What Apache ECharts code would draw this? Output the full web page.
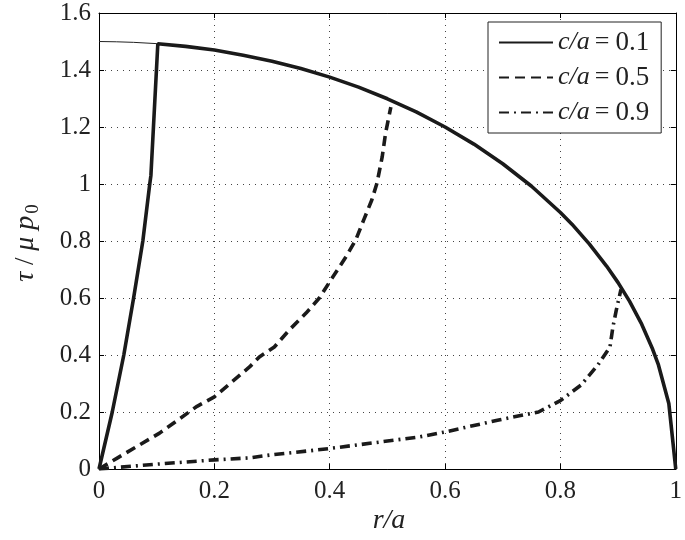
<!DOCTYPE html>
<html>
<head>
<meta charset="utf-8">
<script src="https://cdn.jsdelivr.net/npm/echarts@6/dist/echarts.min.js"></script>
<style>html,body{margin:0;padding:0;background:#fff}#c{width:685px;height:540px}</style>
</head>
<body>
<div id="c"></div>
<script>
// ---- data ----
const xTicks = [0, 0.2, 0.4, 0.6, 0.8, 1];
const yTicks = [0, 0.2, 0.4, 0.6, 0.8, 1, 1.2, 1.4, 1.6];

// thin reference curve (r/a < 0.1)
const thinX = [0, 0.03, 0.06, 0.1];
const thinY = [1.5, 1.499, 1.497, 1.4925];

// c/a = 0.1 (solid)
const ca01X = [0, 0.023, 0.043, 0.06, 0.076, 0.088, 0.09, 0.102, 0.15, 0.2, 0.25, 0.3, 0.35, 0.4, 0.45, 0.5, 0.55, 0.6, 0.65, 0.7, 0.75, 0.8, 0.82, 0.85, 0.88, 0.9, 0.92, 0.94, 0.96, 0.97, 0.988, 1.0];
const ca01Y = [0, 0.2, 0.4, 0.6, 0.8, 1.0, 1.03, 1.492, 1.483, 1.47, 1.452, 1.431, 1.405, 1.375, 1.34, 1.299, 1.253, 1.2, 1.14, 1.071, 0.992, 0.9, 0.859, 0.79, 0.712, 0.654, 0.588, 0.512, 0.42, 0.365, 0.23, 0];

// c/a = 0.5 (dashed)
const ca05X = [0, 0.033, 0.105, 0.17, 0.2, 0.261, 0.278, 0.304, 0.33, 0.359, 0.382, 0.402, 0.428, 0.445, 0.459, 0.473, 0.482, 0.491, 0.497, 0.506];
const ca05Y = [0, 0.04, 0.126, 0.22, 0.253, 0.358, 0.393, 0.428, 0.488, 0.547, 0.6, 0.663, 0.744, 0.803, 0.874, 0.944, 1.003, 1.095, 1.18, 1.27];

// c/a = 0.9 (dash-dot)
const ca09X = [0, 0.1, 0.2, 0.261, 0.3, 0.361, 0.4, 0.5, 0.554, 0.6, 0.693, 0.762, 0.8, 0.836, 0.865, 0.886, 0.891, 0.897, 0.905];
const ca09Y = [0, 0.017, 0.032, 0.039, 0.05, 0.063, 0.072, 0.098, 0.112, 0.13, 0.172, 0.2, 0.24, 0.295, 0.365, 0.428, 0.498, 0.558, 0.63];

const seriesNames = ['c/a = 0.1', 'c/a = 0.5', 'c/a = 0.9'];

const zip = (xs, ys) => xs.map((x, i) => [x, ys[i]]);
const FONT = 'Liberation Serif';

const chart = echarts.init(document.getElementById('c'), null, {renderer: 'canvas'});

const splitStyle = {show: true, lineStyle: {color: '#444', width: 1, type: [1, 5]}};
const tickIn = {show: true, inside: true, length: 5, lineStyle: {color: '#000', width: 1}};
const axisLine = {show: true, onZero: false, lineStyle: {color: '#000', width: 1}};

chart.setOption({
  animation: false,
  backgroundColor: '#fff',
  grid: {left: 99, right: 7, top: 13, bottom: 71, containLabel: false},
  xAxis: [
    {type: 'value', min: 0, max: 1, interval: 0.2, position: 'bottom',
     axisLine: axisLine, axisTick: tickIn, splitLine: splitStyle,
     axisLabel: {color: '#222', fontFamily: FONT, fontSize: 25, margin: 10}},
    {type: 'value', min: 0, max: 1, interval: 0.2, position: 'top',
     axisLine: axisLine, axisTick: tickIn, splitLine: {show: false}, axisLabel: {show: false}}
  ],
  yAxis: [
    {type: 'value', min: 0, max: 1.6, interval: 0.2, position: 'left',
     axisLine: axisLine, axisTick: tickIn, splitLine: splitStyle,
     axisLabel: {color: '#222', fontFamily: FONT, fontSize: 25, margin: 8}},
    {type: 'value', min: 0, max: 1.6, interval: 0.2, position: 'right',
     axisLine: axisLine, axisTick: tickIn, splitLine: {show: false}, axisLabel: {show: false}}
  ],
  legend: {
    data: seriesNames,
    orient: 'vertical',
    left: 488, top: 22,
    padding: [7, 12, 7, 10],
    itemWidth: 54, itemHeight: 14, itemGap: 8,
    itemStyle: {opacity: 0},
    borderColor: '#222', borderWidth: 1, backgroundColor: '#fff',
    formatter: function (n) { return '{i|c/a}{e|=}{n|' + n.split('= ')[1] + '}'; },
    textStyle: {fontFamily: FONT, fontSize: 26, color: '#222',
      rich: {i: {fontFamily: FONT, fontStyle: 'italic', fontSize: 26, color: '#222'},
             e: {fontFamily: FONT, fontSize: 26, color: '#222', padding: [0, 6, 0, 5]},
             n: {fontFamily: FONT, fontSize: 27, color: '#222'}}}
  },
  series: [
    {name: 'thin', type: 'line', data: zip(thinX, thinY), showSymbol: false, symbol: 'none',
     lineStyle: {color: '#222', width: 1}, z: 2},
    {name: seriesNames[0], type: 'line', data: zip(ca01X, ca01Y), symbol: 'none',
     lineStyle: {color: '#1a1a1a', width: 3.6, type: 'solid'}, itemStyle: {color: '#1a1a1a'}, z: 3},
    {name: seriesNames[1], type: 'line', data: zip(ca05X, ca05Y), symbol: 'none',
     lineStyle: {color: '#1a1a1a', width: 3.6, type: [10, 6]}, itemStyle: {color: '#1a1a1a'}, z: 3},
    {name: seriesNames[2], type: 'line', data: zip(ca09X, ca09Y), symbol: 'none',
     lineStyle: {color: '#1a1a1a', width: 3.6, type: [10, 5, 2, 5]}, itemStyle: {color: '#1a1a1a'}, z: 3}
  ],
  graphic: [
    {type: 'text', x: 26, y: 243, rotation: Math.PI / 2,
     style: {text: '{g|τ} / {g|μ} {g|p}{s|0}', align: 'center', verticalAlign: 'middle',
       fill: '#222', fontFamily: FONT, fontSize: 27,
       rich: {g: {fontFamily: FONT, fontStyle: 'italic', fontSize: 28, fill: '#222'},
              s: {fontFamily: FONT, fontSize: 19, fill: '#222', verticalAlign: 'bottom', padding: [14, 0, 0, 2]}}}},
    {type: 'text', x: 389, y: 521,
     style: {text: 'r/a', align: 'center', verticalAlign: 'middle', fill: '#222',
       fontFamily: FONT, fontStyle: 'italic', fontSize: 28}}
  ]
});
</script>
</body>
</html>
